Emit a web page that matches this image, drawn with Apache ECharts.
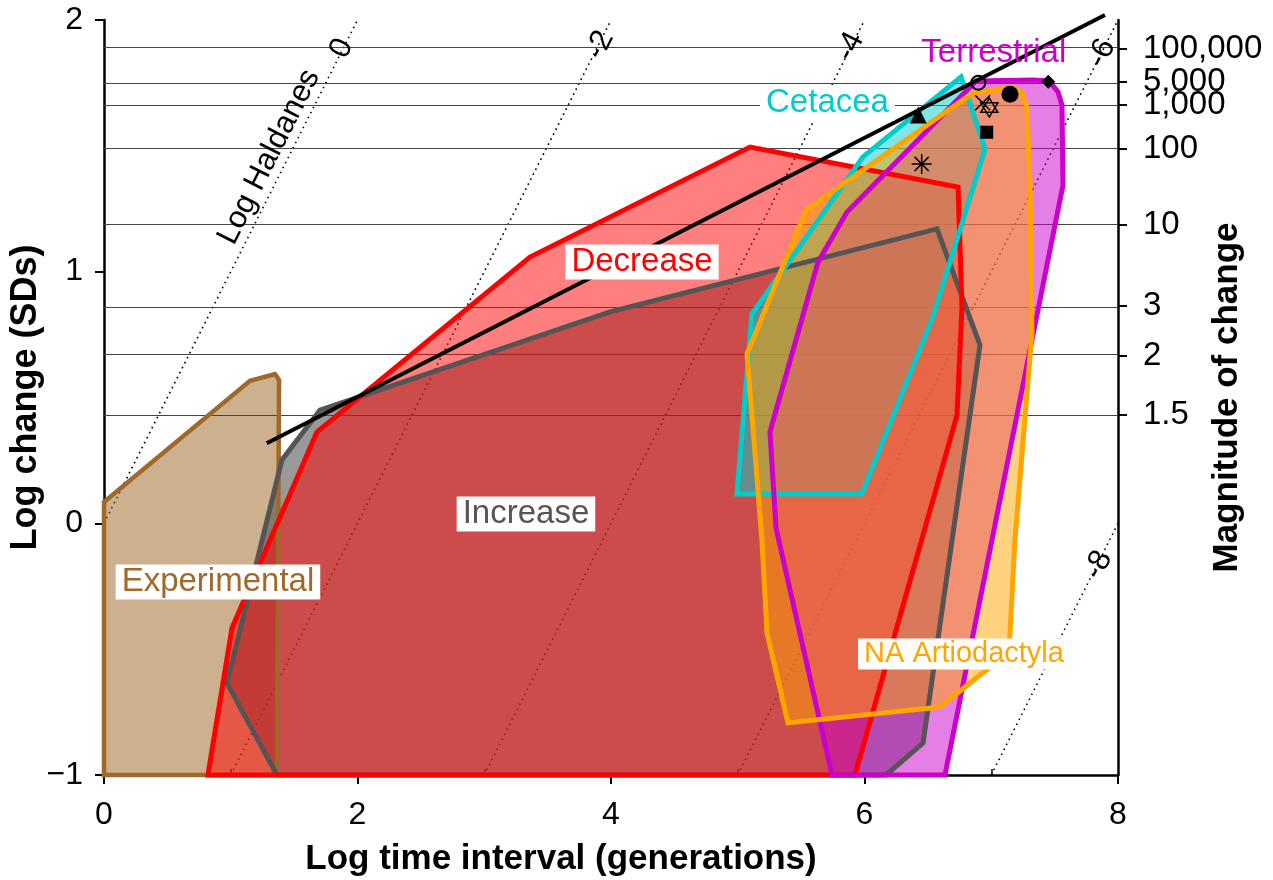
<!DOCTYPE html>
<html><head><meta charset="utf-8">
<script src="https://cdn.jsdelivr.net/npm/echarts@6/dist/echarts.min.js"></script>
<style>html,body{margin:0;padding:0;background:#fff}#c{width:1273px;height:880px}</style>
</head><body><div id="c"></div>
<script>
// ---- data ----
const experimental = [[0,0.085],[1.152,0.566],[1.349,0.593],[1.381,0.570],[1.365,-1],[0,-1]];
const increase = [[1.365,-1],[0.970,-0.634],[1.404,0.252],[1.704,0.450],[3.992,0.840],[6.572,1.170],[6.911,0.709],[6.462,-0.873],[6.170,-1]];
const decrease = [[0.820,-1],[1.010,-0.416],[1.680,0.363],[3.361,1.058],[5.097,1.495],[6.738,1.336],[6.769,0.860],[6.730,0.430],[5.925,-1]];
const cetacea = [[6.761,1.774],[6.824,1.682],[6.951,1.487],[6.540,0.820],[5.980,0.117],[4.994,0.117],[5.112,0.832],[5.988,1.456]];
const terrestrial = [[6.880,1.758],[7.329,1.762],[7.456,1.758],[7.527,1.714],[7.558,1.662],[7.566,1.344],[6.635,-1],[5.744,-1],[5.302,-0.019],[5.254,0.363],[5.633,1.038],[5.862,1.237]];
const naArtiodactyla = [[6.856,1.710],[7.172,1.734],[7.243,1.710],[7.282,1.654],[7.306,1.352],[7.321,0.756],[7.187,-0.066],[7.140,-0.511],[6.596,-0.730],[5.396,-0.793],[5.231,-0.436],[5.191,-0.066],[5.073,0.673],[5.538,1.245]];

const trendLine = [[1.284,0.318],[7.897,2.02]];

const haldaneLines = [
  [[0,0],[2,2]],
  [[1,-1],[4,2]],
  [[3,-1],[6,2]],
  [[5,-1],[8,2]],
  [[7,-1],[8,0]]
];
const haldaneLabelText = ['0','-2','-4','-6','-8','Log Haldanes'];
const haldaneLabelPos = [[1.875,1.887],[3.913,1.90],[5.886,1.894],[7.871,1.868],[7.845,-0.166],[1.302,1.456]];

const magnitudeLabels = ['100,000','5,000','1,000','100','10','3','2','1.5'];
const magnitudePositions = [1.885,1.754,1.663,1.487,1.186,0.865,0.665,0.432];

const xTicks = [0,2,4,6,8];
const xMinorTicks = [1,3,5,7];

const regionNames = ['Terrestrial','Cetacea','Decrease','Increase','Experimental','NA Artiodactyla'];
const regionLabelPos = [[7.02,1.871],[5.708,1.670],[4.245,1.038],[3.329,0.037],[0.899,-0.233],[6.785,-0.519]];

const ptTriangle = [[6.424,1.623]];
const ptOpenCircle = [[6.898,1.751]];
const ptFilledCircle = [[7.148,1.705]];
const ptDiamond = [[7.450,1.755]];
const ptSquare = [[6.964,1.554]];
const ptAsterisk = [[6.451,1.428]];
const ptCross = [[6.932,1.671]];
const ptStar = [[6.985,1.652]];

// ---- styles ----
const FONT = 'Liberation Sans, Arial, Helvetica, sans-serif';
const regionStyles = {
  'Terrestrial': {color:'#CC00CC', bg:null, size:33},
  'Cetacea': {color:'#00CCCC', bg:'#fff', size:33},
  'Decrease': {color:'#FF0000', bg:'#fff', size:33},
  'Increase': {color:'#555555', bg:'#fff', size:33},
  'Experimental': {color:'#A0692A', bg:'#fff', size:33},
  'NA Artiodactyla': {color:'#FFA500', bg:'#fff', size:29}
};

const polys = [
  {pts: experimental, fill:'rgba(160,105,40,0.53)', stroke:'#A0692A', w:4.5},
  {pts: increase, fill:'rgba(85,85,85,0.6)', stroke:'#555555', w:5},
  {pts: decrease, fill:'rgba(255,0,0,0.5)', stroke:'#FF0000', w:5},
  {pts: cetacea, fill:'rgba(0,204,204,0.5)', stroke:'#00CCCC', w:5},
  {pts: terrestrial, fill:'rgba(204,0,204,0.5)', stroke:'#CC00CC', w:5},
  {pts: naArtiodactyla, fill:'rgba(255,165,0,0.5)', stroke:'#FFA500', w:5}
];

function polySeries(p, mode, z) {
  return {
    type:'custom', coordinateSystem:'cartesian2d', xAxisIndex:0, yAxisIndex:0, z:z, silent:true,
    data:[p.pts[0]],
    renderItem: function(params, api) {
      const pts = p.pts.map(function(v){ return api.coord(v); });
      return {
        type:'polygon',
        shape:{points: pts},
        style: mode === 'fill'
          ? {fill:p.fill, stroke:null}
          : {fill:'none', stroke:p.stroke, lineWidth:p.w, lineJoin:'miter'}
      };
    }
  };
}

const series = [];
// gridlines at magnitude ticks
series.push({
  type:'line', data:[], z:1, silent:true,
  markLine:{silent:true, symbol:['none','none'], label:{show:false},
    lineStyle:{color:'#444', width:1, type:'solid'},
    data: magnitudePositions.map(function(v){ return {yAxis:v}; })}
});
// haldane dotted lines
haldaneLines.forEach(function(seg){
  series.push({type:'line', data:seg, z:1, silent:true, symbol:'none',
    lineStyle:{color:'#000', width:1.6, type:[1.6,4]}});
});
polys.forEach(function(p,i){ series.push(polySeries(p,'fill',3+i)); });
polys.forEach(function(p,i){ series.push(polySeries(p,'stroke',10+i)); });
// trend line
series.push({type:'line', data:trendLine, z:20, symbol:'none', clip:false, silent:true,
  lineStyle:{color:'#000', width:4}});
// markers
function marker(data, symbol, size, fill, stroke, bw) {
  return {type:'scatter', data:data, z:21, symbol:symbol, symbolSize:size, silent:true,
    itemStyle:{color:fill, borderColor:stroke, borderWidth:bw, opacity:1}};
}
series.push(marker(ptTriangle,'triangle',17,'#000','#000',0));
series.push(marker(ptOpenCircle,'circle',14,'rgba(0,0,0,0)','#000',2));
series.push(marker(ptFilledCircle,'circle',17,'#000','#000',0));
series.push(marker(ptDiamond,'diamond',14,'#000','#000',0));
series.push(marker(ptSquare,'rect',13,'#000','#000',0));
series.push(marker(ptAsterisk,'path://M0,-10L0,10M-10,0L10,0M-7.07,-7.07L7.07,7.07M-7.07,7.07L7.07,-7.07',[20,20],'none','#000',1.5));
series.push(marker(ptCross,'path://M-8,-8L8,8M-8,8L8,-8',[15,15],'none','#000',1.5));
series.push(marker(ptStar,'path://M0,-10L8.66,5L-8.66,5ZM0,10L8.66,-5L-8.66,-5Z',[17,19],'none','#000',1.5));

// haldane labels
series.push({type:'scatter', z:22, symbolSize:0, silent:true, itemStyle:{opacity:1},
  data: haldaneLabelPos.map(function(p,i){ return {value:p, name:haldaneLabelText[i]}; }),
  label:{show:true, position:'inside', rotate:63.27, formatter:'{b}', color:'#000', opacity:1,
    fontSize:31, fontFamily:FONT, align:'center', verticalAlign:'middle'}
});
// region labels
series.push({type:'scatter', z:23, symbolSize:0, silent:true, itemStyle:{opacity:1},
  data: regionLabelPos.map(function(p,i){
    const s = regionStyles[regionNames[i]];
    return {value:p, name:regionNames[i], label:{color:s.color, fontSize:s.size,
      backgroundColor:s.bg || 'transparent', padding: s.bg ? [1,6,1,6] : 0}};
  }),
  label:{show:true, position:'inside', formatter:'{b}', fontFamily:FONT, opacity:1,
    align:'center', verticalAlign:'middle'}
});

const option = {
  animation:false,
  backgroundColor:'#fff',
  textStyle:{fontFamily:FONT},
  grid:{left:104, right:155, top:20, bottom:105, containLabel:false, outerBoundsMode:'none'},
  xAxis:[
    {type:'value', min:0, max:8, interval:2, position:'bottom',
     axisLine:{show:true, onZero:false, lineStyle:{color:'#000', width:2.5}},
     axisTick:{show:true, length:9, lineStyle:{color:'#000', width:2}},
     axisLabel:{fontSize:32, color:'#000', margin:24, fontFamily:FONT},
     splitLine:{show:false},
     name:'Log time interval (generations)', nameLocation:'middle', nameGap:67, nameMoveOverlap:false,
     nameTextStyle:{fontSize:35, fontWeight:'bold', color:'#000', fontFamily:FONT, padding:[0,100,0,0]}},
    {type:'value', min:0, max:8, position:'bottom',
     axisLine:{show:false, onZero:false},
     axisTick:{show:true, inside:true, length:6, customValues:xMinorTicks, lineStyle:{color:'#000', width:1.5}},
     axisLabel:{show:false}, splitLine:{show:false}}
  ],
  yAxis:[
    {type:'value', min:-1, max:2, interval:1, position:'left',
     axisLine:{show:true, onZero:false, lineStyle:{color:'#000', width:2.5}},
     axisTick:{show:true, length:9, lineStyle:{color:'#000', width:2}},
     axisLabel:{fontSize:32, color:'#000', margin:21, fontFamily:FONT,
       formatter:function(v){ return v < 0 ? '\u2212' + Math.abs(v) : String(v); }},
     splitLine:{show:false},
     name:'Log change (SDs)', nameLocation:'middle', nameGap:60, nameRotate:90, nameMoveOverlap:false,
     nameTextStyle:{fontSize:36, fontWeight:'bold', color:'#000', fontFamily:FONT}},
    {type:'value', min:-1, max:2, position:'right',
     axisLine:{show:true, onZero:false, lineStyle:{color:'#000', width:2.5}},
     axisTick:{show:true, length:9, customValues:magnitudePositions, lineStyle:{color:'#000', width:2}},
     axisLabel:{fontSize:33, color:'#000', margin:25, fontFamily:FONT, customValues:magnitudePositions,
       formatter:function(v){
         for (let i=0;i<magnitudePositions.length;i++){ if (Math.abs(magnitudePositions[i]-v)<1e-6) return magnitudeLabels[i]; }
         return '';
       }},
     splitLine:{show:false},
     name:'Magnitude of change', nameLocation:'middle', nameGap:92, nameRotate:90, nameMoveOverlap:false,
     nameTextStyle:{fontSize:35, fontWeight:'bold', color:'#000', fontFamily:FONT}}
  ],
  series: series
};
const chart = echarts.init(document.getElementById('c'), null, {renderer:'canvas'});
chart.setOption(option);
</script></body></html>
